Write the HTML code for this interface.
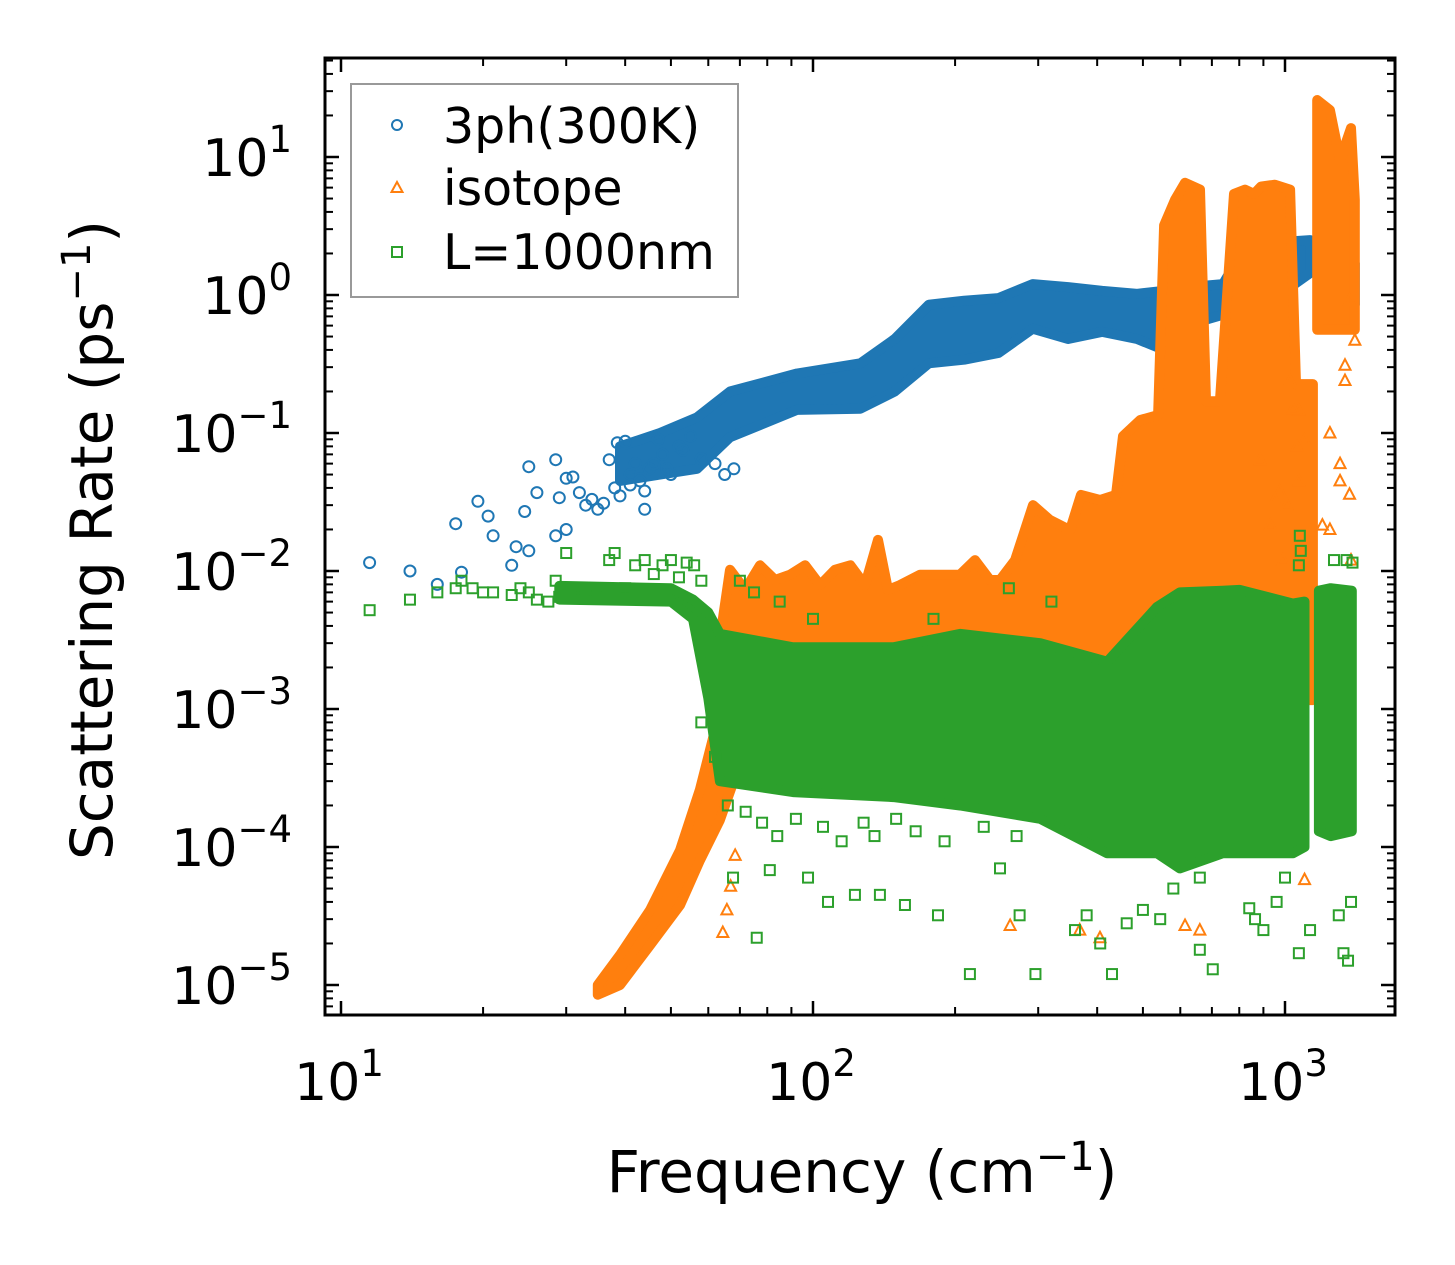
<!DOCTYPE html>
<html><head><meta charset="utf-8">
<style>
html,body{margin:0;padding:0;background:#fff;}
svg{display:block;font-family:"DejaVu Sans","Liberation Sans",sans-serif;}
</style></head>
<body>
<svg id="chart" width="1455" height="1265" viewBox="0 0 1455 1265" xmlns="http://www.w3.org/2000/svg">
  <rect x="0" y="0" width="1455" height="1265" fill="#fff"/>
  <g id="marks"></g>
  <g id="axes"></g>
  <g id="legend">
    <rect x="351" y="84" width="387" height="213" fill="#fff" stroke="#999" stroke-width="2"/>
    <circle cx="397" cy="125" r="5" fill="none" stroke="#1f77b4" stroke-width="2"/>
    <text x="443" y="143" font-size="49" fill="#000">3ph(300K)</text>
    <polygon points="397,182 402.5,192 391.5,192" fill="none" stroke="#ff7f0e" stroke-width="2"/>
    <text x="443" y="205" font-size="49" fill="#000">isotope</text>
    <rect x="392" y="247" width="10" height="10" fill="none" stroke="#2ca02c" stroke-width="2"/>
    <text x="443" y="269" font-size="49" fill="#000">L=1000nm</text>
  </g>
  <text x="862" y="1192" font-size="58" text-anchor="middle" fill="#000">Frequency (cm<tspan dy="-22" font-size="40">−1</tspan><tspan dy="22">)</tspan></text>
  <text transform="translate(112,540) rotate(-90)" font-size="58" text-anchor="middle" fill="#000">Scattering Rate (ps<tspan dy="-22" font-size="40">−1</tspan><tspan dy="22">)</tspan></text>
</svg>
<script>
// ---- data (frequency in cm^-1, rate in ps^-1) ----
const blueF1  = [39, 47.4, 56.8, 66.7, 92.5, 126, 149, 176, 209, 247, 292, 347, 410, 486, 554, 626, 739, 807, 952, 1130];
const blueHi1 = [0.08, 0.10, 0.13, 0.20, 0.27, 0.32, 0.48, 0.85, 0.91, 0.95, 1.2, 1.14, 1.07, 1.02, 1.07, 1.14, 1.2, 2.0, 2.4, 2.5];
const blueLo1 = [0.045, 0.05, 0.055, 0.093, 0.147, 0.15, 0.20, 0.32, 0.34, 0.38, 0.57, 0.48, 0.54, 0.48, 0.40, 0.61, 0.72, 0.77, 0.95, 1.44];
const blueF2  = [1186, 1406];
const blueHi2 = [1.7, 1.7];
const blueLo2 = [0.85, 0.85];
const blueScatF = [11.5,14,16,17.5,18,19.5,20.5,21,23,23.5,24.5,25,25,26,28.5,28.5,29,30,30,31,32,33,34,35,36,37,38,38.5,40,41,42,43,44,45,47,48,50,52,55,58,62,65,68,39,41,44,46,49,53];
const blueScatV = [0.0115,0.01,0.008,0.022,0.0098,0.032,0.025,0.018,0.011,0.015,0.027,0.057,0.014,0.037,0.064,0.018,0.034,0.047,0.02,0.048,0.037,0.03,0.033,0.028,0.031,0.064,0.04,0.085,0.087,0.05,0.06,0.045,0.028,0.055,0.09,0.07,0.05,0.08,0.095,0.065,0.06,0.05,0.055,0.035,0.042,0.038,0.06,0.055,0.075];

const orangeF1  = [35.0,39.0,45.2,52.3,57.6,62.0,63.5,66.7,71.8,77.2,83.1,89.4,96.2,103.5,111.3,120,128.9,137.3,144.2,152.8,168.6,185.8,204.8,220.4,237.1,249,268,292.5,317.8,350.4,369.7,405.5,438.5,453.7,493.2,538.4,554.5,584.8,614,660.5,680.3,728,779.6,822.7,859.7,889.7,952.1,1025,1055,1146];
const orangeHi1 = [1.0e-5,1.65e-5,3.5e-5,9.5e-5,2.6e-4,7e-4,3.2e-3,0.0102,0.0073,0.011,0.0086,0.0094,0.011,0.0079,0.0102,0.011,0.0079,0.0168,0.0073,0.0079,0.0094,0.0094,0.0094,0.012,0.0086,0.0086,0.012,0.030,0.0234,0.0198,0.0356,0.0327,0.0356,0.095,0.124,0.135,3.2,4.9,6.5,5.8,0.17,0.17,5.4,5.8,5.4,6.1,6.3,5.8,0.226,0.226];
const orangeLoF = [35.0,39.0,45.2,52.3,57.6,63.5,70.5,96,152.8,249,317.8,405.5,538.4,660.5,834,1146];
const orangeLo1 = [8.5e-6,1.0e-5,1.95e-5,3.8e-5,8e-5,1.57e-4,4.3e-4,6e-4,6e-4,6e-4,1.16e-3,1.16e-3,8.3e-4,1.6e-3,1.16e-3,1.16e-3];
const orangeF2  = [1170,1245,1308,1380,1406];
const orangeHi2 = [25.9,21.9,9.5,16.2,4.9];
const orangeLo2 = [0.56,0.56,0.56,0.56,0.56];
const orangeScatF = [64.4,65.7,66.9,68.4,71.8,261.6,367.4,405.5,931,975,1070,1070,1100,1200,1245,1308,1340,1340,1370,1406,1370,1025,886,952,801,782,764,556,696,660,614,1100,1245,1308,1380,1040,1060,1010,990];
const orangeScatV = [2.4e-5,3.5e-5,5.2e-5,8.7e-5,3.6e-4,2.7e-5,2.5e-5,2.2e-5,0.0215,0.038,0.045,0.146,0.089,0.0215,0.02,0.045,0.31,0.24,0.036,0.47,0.92,0.24,0.064,0.033,0.0027,0.0012,0.00026,0.00016,0.00065,2.5e-5,2.7e-5,5.8e-5,0.1,0.06,0.012,0.15,0.08,0.03,0.012];

const greenF1  = [29,50,55.7,60,63.5,90.7,148,205,303,420,536,599,738,801,1040,1100];
const greenHi1 = [0.0078,0.0075,0.0062,0.005,0.0035,0.0028,0.0028,0.0035,0.003,0.0022,0.0055,0.007,0.0072,0.0073,0.0058,0.006];
const greenLo1 = [0.0062,0.006,0.0045,0.0012,0.0003,0.00025,0.00023,0.0002,0.00016,0.00009,0.00009,0.00007,0.00009,0.00009,0.00009,0.0001];
const greenF2  = [1180,1250,1385];
const greenHi2 = [0.0072,0.0075,0.0072];
const greenLo2 = [0.00013,0.00012,0.00013];
const greenScatF = [11.5,14,16,17.5,18,19,20,21,23,24,25,26,27.5,28.5,29,30,31,33,35,37,38,40,42,44,46,48,50,52,54,56,58,
  67.7,76,81,97.6,107.6,122.7,138.6,156.6,184,215,249,274,296,359,380,406,430,462,500,544,580,660,703,660,840,864,900,960,1000,1070,1130,1300,1330,1360,1380,
  1075,1070,1080,1350,1390,1270,70,75,85,100,180,260,320,
  72,78,84,92,105,115,128,135,150,165,190,230,270,62,66,58];
const greenScatV = [0.0052,0.0062,0.007,0.0075,0.0085,0.0075,0.007,0.007,0.0067,0.0075,0.007,0.0062,0.006,0.0085,0.0065,0.0135,0.007,0.0065,0.007,0.012,0.0135,0.0075,0.011,0.012,0.0095,0.011,0.012,0.009,0.0115,0.011,0.0085,
  0.00006,0.000022,0.000068,0.00006,0.00004,0.000045,0.000045,0.000038,0.000032,0.000012,0.00007,0.000032,0.000012,0.000025,0.000032,0.00002,0.000012,0.000028,0.000035,0.00003,0.00005,0.000018,0.000013,0.00006,0.000036,0.00003,0.000025,0.00004,0.00006,0.000017,0.000025,0.000032,0.000017,0.000015,0.00004,
  0.018,0.011,0.014,0.012,0.0115,0.012,0.0085,0.007,0.006,0.0045,0.0045,0.0075,0.006,
  0.00018,0.00015,0.00012,0.00016,0.00014,0.00011,0.00015,0.00012,0.00016,0.00013,0.00011,0.00014,0.00012,0.00045,0.0002,0.0008];

const xTickLabels = ["1","2","3"];
const yTickLabels = ["1","0","−1","−2","−3","−4","−5"];

// ---- axis functions ----
const PL=325, PR=1395, PT=58, PB=1015;
function xs(f){ return 813 + 472*Math.log10(f/100); }
function ys(v){ return 295 - 138*Math.log10(v); }

const NS="http://www.w3.org/2000/svg";
const marks=document.getElementById('marks');
const axes=document.getElementById('axes');
function mk(tag, attrs, parent){
  const e=document.createElementNS(NS,tag);
  for(const k in attrs) e.setAttribute(k, attrs[k]);
  parent.appendChild(e); return e;
}

const defs=mk('defs',{},marks);
const cp=mk('clipPath',{id:'plotclip'},defs);
mk('rect',{x:PL,y:PT,width:PR-PL,height:PB-PT},cp);
const gClip=mk('g',{'clip-path':'url(#plotclip)'},marks);

function band(fHi, hi, fLo, lo, color, name){
  const pts=[];
  for(let i=0;i<fHi.length;i++) pts.push(xs(fHi[i]).toFixed(1)+','+ys(hi[i]).toFixed(1));
  for(let i=fLo.length-1;i>=0;i--) pts.push(xs(fLo[i]).toFixed(1)+','+ys(lo[i]).toFixed(1));
  const p=mk('polygon',{points:pts.join(' '),fill:color,stroke:color,'stroke-width':10,'stroke-linejoin':'round'},gClip);
  
  
}
function circles(F,V,color,name){
  const g=mk('g',{},gClip);
  
  
  for(let i=0;i<F.length;i++){
    const c=mk('circle',{cx:xs(F[i]).toFixed(1),cy:ys(V[i]).toFixed(1),r:5.5,fill:'none',stroke:color,'stroke-width':2},g);
    
    
  }
}
function tris(F,V,color,name){
  const g=mk('g',{},gClip);
  
  
  for(let i=0;i<F.length;i++){
    const x=xs(F[i]), y=ys(V[i]);
    const t=mk('polygon',{points:`${x},${y-6} ${x+5.5},${y+4.5} ${x-5.5},${y+4.5}`,fill:'none',stroke:color,'stroke-width':2},g);
    
    
  }
}
function squares(F,V,color,name){
  const g=mk('g',{},gClip);
  
  
  for(let i=0;i<F.length;i++){
    const x=xs(F[i]), y=ys(V[i]);
    const s=mk('rect',{x:x-5,y:y-5,width:10,height:10,fill:'none',stroke:color,'stroke-width':2},g);
    
    
  }
}
const BLUE='#1f77b4', ORANGE='#ff7f0e', GREEN='#2ca02c';
band(blueF1,blueHi1,blueF1,blueLo1,BLUE,'series-3ph-dense');
band(blueF2,blueHi2,blueF2,blueLo2,BLUE,'series-3ph-dense-high');
circles(blueScatF,blueScatV,BLUE,'series-3ph-points');
band(orangeF1,orangeHi1,orangeLoF,orangeLo1,ORANGE,'series-isotope-dense');
band(orangeF2,orangeHi2,orangeF2,orangeLo2,ORANGE,'series-isotope-dense-high');
tris(orangeScatF,orangeScatV,ORANGE,'series-isotope-points');
band(greenF1,greenHi1,greenF1,greenLo1,GREEN,'series-l1000nm-dense');
band(greenF2,greenHi2,greenF2,greenLo2,GREEN,'series-l1000nm-dense-high');
squares(greenScatF,greenScatV,GREEN,'series-l1000nm-points');

// ---- axes ----
const frame=mk('rect',{x:PL,y:PT,width:PR-PL,height:PB-PT,fill:'none',stroke:'#000','stroke-width':3},axes);


function tick(x1,y1,x2,y2,w){ mk('line',{x1,y1,x2,y2,stroke:'#000','stroke-width':w},axes); }
for(let d=0; d<=3; d++){
  for(let m=1;m<=9;m++){
    const f=Math.pow(10,d)*m; const x=xs(f);
    if(x<PL+1||x>PR-1) continue;
    const L = m===1?14:8, w = m===1?2.5:2;
    tick(x,PB,x,PB-L,w); tick(x,PT,x,PT+L,w);
  }
}
xTickLabels.forEach((s)=>{
  const x=xs(Math.pow(10,+s));
  const t=mk('text',{x:x-2,y:1100,'font-size':52,'text-anchor':'middle',fill:'#000'},axes);
  
  
  t.innerHTML='10<tspan dy="-24" font-size="37">'+s+'</tspan>';
});
for(let d=-6; d<=2; d++){
  for(let m=1;m<=9;m++){
    const v=Math.pow(10,d)*m; const y=ys(v);
    if(y<PT+1||y>PB-1) continue;
    const L = m===1?14:8, w = m===1?2.5:2;
    tick(PL,y,PL+L,y,w); tick(PR,y,PR-L,y,w);
  }
}
yTickLabels.forEach((s)=>{
  const y=ys(Math.pow(10,+s.replace('−','-')));
  const t=mk('text',{x:292,y:y+19,'font-size':52,'text-anchor':'end',fill:'#000'},axes);
  
  
  t.innerHTML='10<tspan dy="-24" font-size="37">'+s+'</tspan>';
});
</script>
</body></html>
